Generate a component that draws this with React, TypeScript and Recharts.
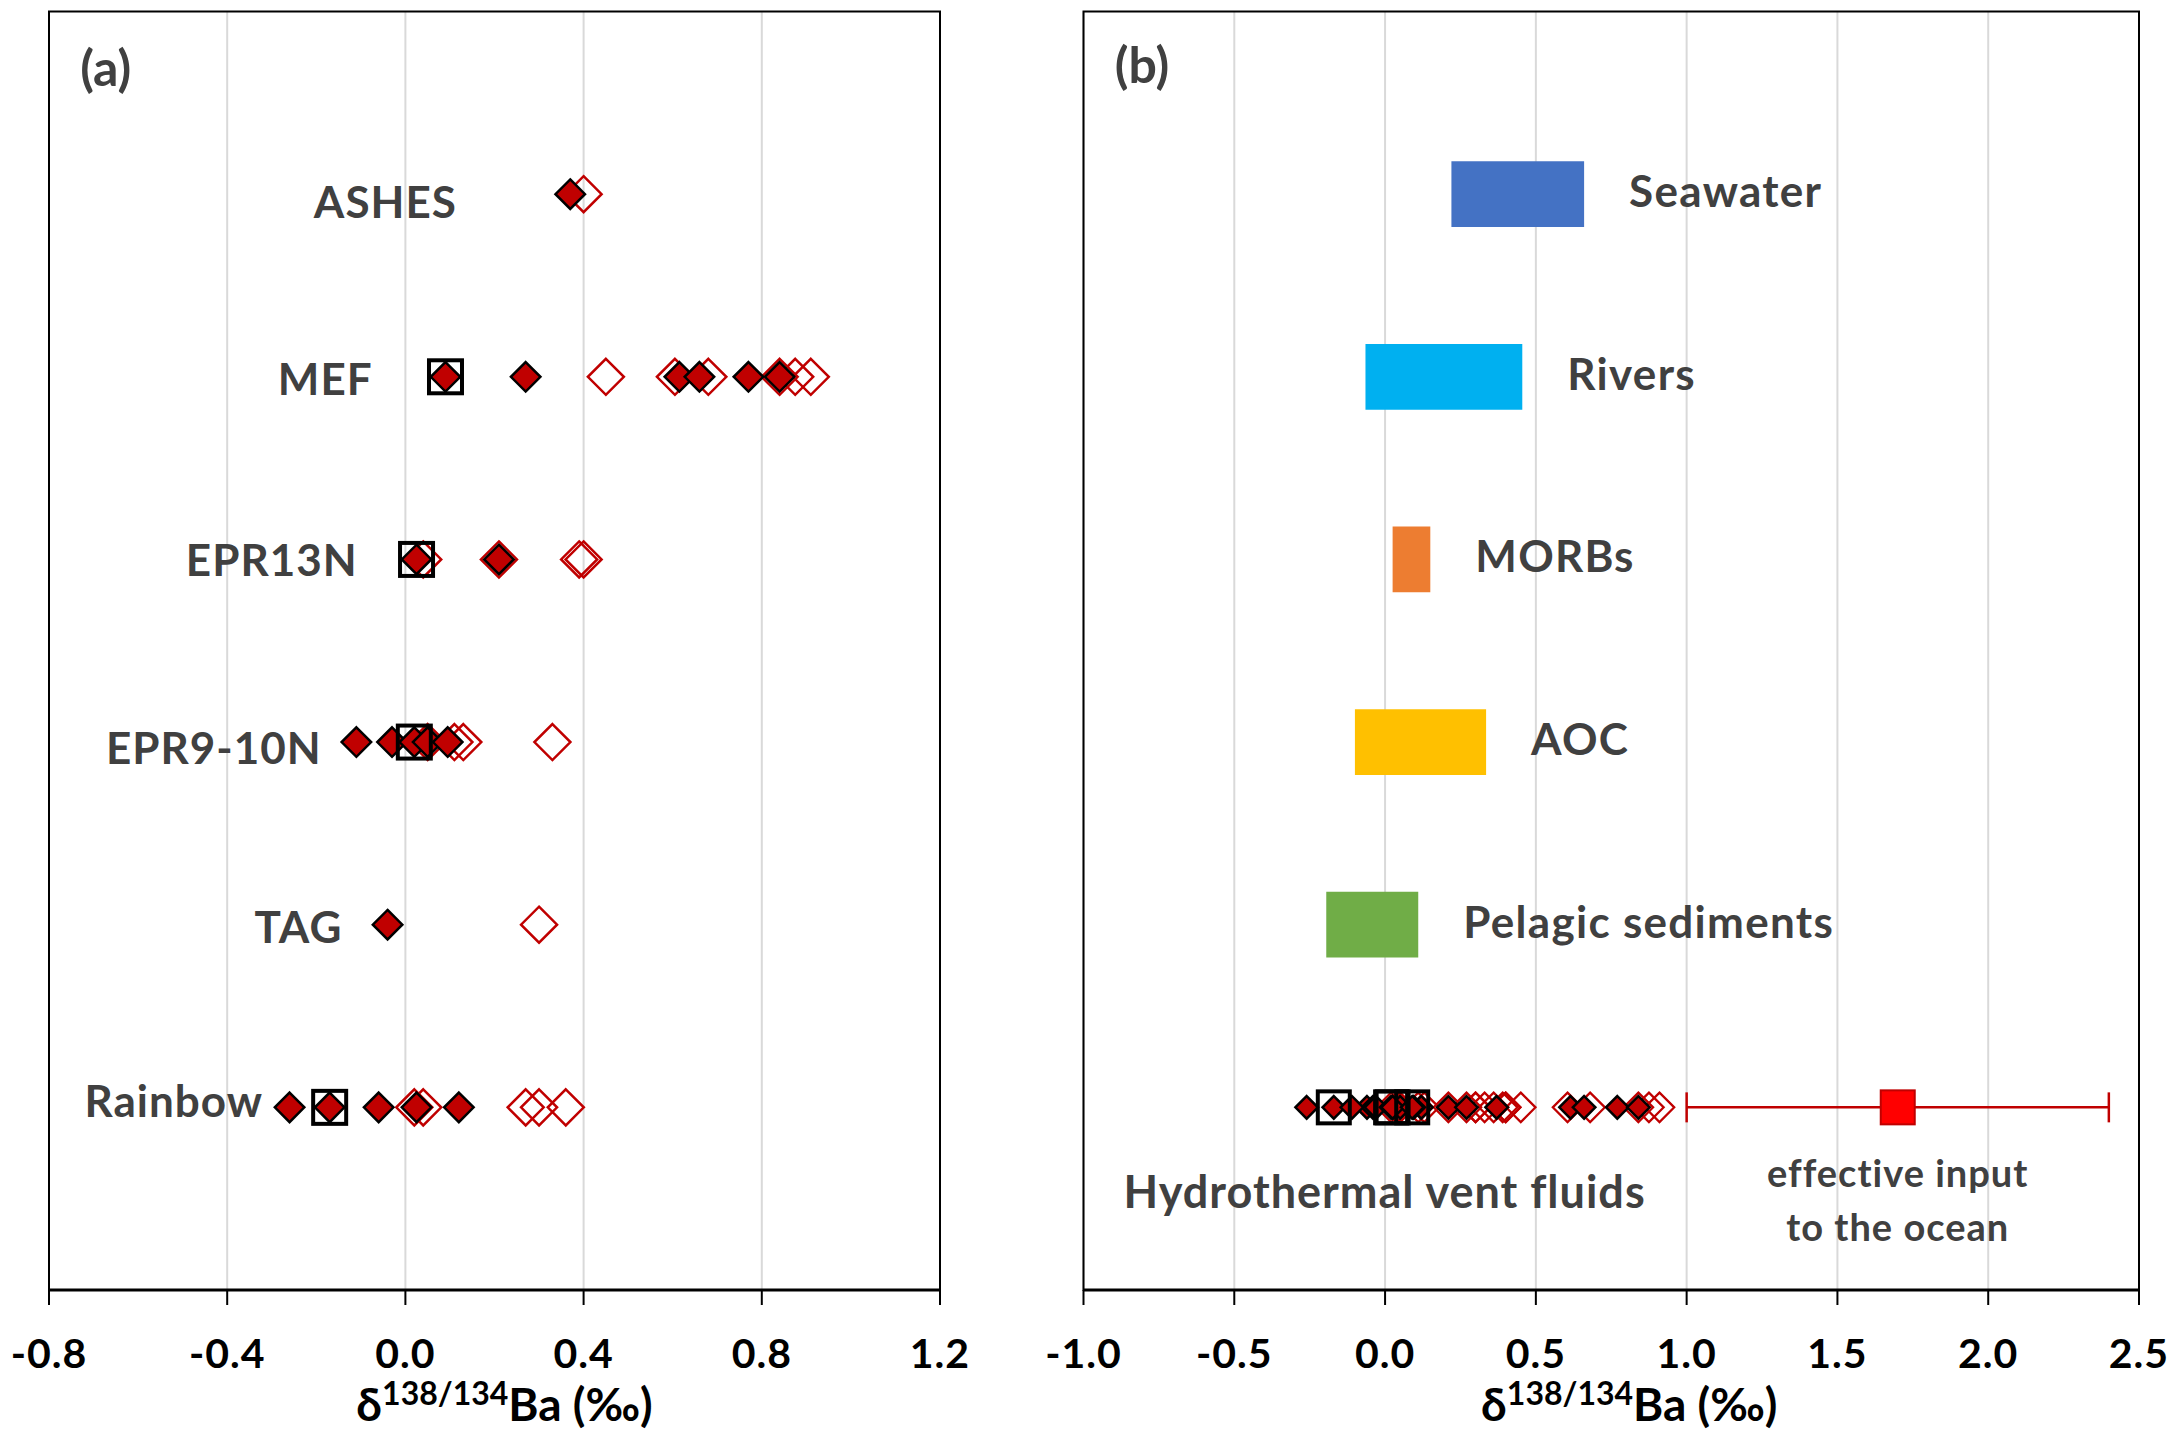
import React from 'react';
import { ScatterChart, Scatter, XAxis, YAxis, CartesianGrid, ReferenceArea, ErrorBar } from 'recharts';

const FONT = "Lato, 'Open Sans', 'DejaVu Sans', sans-serif";
const LABEL_GREY = '#404040';
const DARK_RED = '#C00000';

// Vent sites, from the bottom row (1) to the top row (6)
const siteNames = ['Rainbow', 'TAG', 'EPR9-10N', 'EPR13N', 'MEF', 'ASHES'];
const siteRows = [1, 2, 3, 4, 5, 6];

// δ138/134Ba (‰) of vent fluids: filled, hollow and framed symbols per site
const rainbowFilled = [-0.26, -0.17, -0.06, 0.025, 0.12];
const rainbowHollow = [0.02, 0.04, 0.27, 0.3, 0.36];
const rainbowFramed = [-0.17];
const tagFilled = [-0.04];
const tagHollow = [0.3];
const tagFramed: number[] = [];
const epr910Filled = [-0.11, -0.03, 0.02, 0.05, 0.095];
const epr910Hollow = [0.05, 0.11, 0.13, 0.33];
const epr910Framed = [0.02];
const epr13Filled = [0.025, 0.21];
const epr13Hollow = [0.04, 0.21, 0.39, 0.4];
const epr13Framed = [0.025];
const mefFilled = [0.09, 0.27, 0.615, 0.66, 0.77, 0.84];
const mefHollow = [0.45, 0.605, 0.68, 0.84, 0.875, 0.91];
const mefFramed = [0.09];
const ashesFilled = [0.37];
const ashesHollow = [0.4];
const ashesFramed: number[] = [];

// Site label anchors (label centre), in axis units
const siteLabelX = [-0.52, -0.24, -0.43, -0.3, -0.18, -0.045];
const siteLabelY = [1.035, 1.988, 2.968, 3.997, 4.988, 5.956];

// Ba isotope reservoirs shown as ranges in panel (b)
const sourceNames = ['Seawater', 'Rivers', 'MORBs', 'AOC', 'Pelagic sediments'];
const sourceRows = [6, 5, 4, 3, 2];
const sourceLow = [0.22, -0.065, 0.025, -0.1, -0.195];
const sourceHigh = [0.66, 0.455, 0.15, 0.335, 0.11];
const sourceColors = ['#4472C4', '#00B0F0', '#ED7D31', '#FFC000', '#70AD47'];

// Effective hydrothermal input to the ocean (mean ± range)
const effectiveInput = [1.7];
const effectiveInputErr = [0.7];
const ventRow = 1;

const ticksA = [-0.8, -0.4, 0, 0.4, 0.8, 1.2];
const ticksB = [-1, -0.5, 0, 0.5, 1, 1.5, 2, 2.5];

const filledGroups = [rainbowFilled, tagFilled, epr910Filled, epr13Filled, mefFilled, ashesFilled];
const hollowGroups = [rainbowHollow, tagHollow, epr910Hollow, epr13Hollow, mefHollow, ashesHollow];
const framedGroups = [rainbowFramed, tagFramed, epr910Framed, epr13Framed, mefFramed, ashesFramed];

const bySite = (groups: number[][]) =>
  groups.flatMap((vals, i) => vals.map((v) => ({ x: v, y: siteRows[i] })));
const onVentRow = (groups: number[][]) => groups.flat().map((v) => ({ x: v, y: ventRow }));

const siteLabelPoints = siteNames.map((name, i) => ({ x: siteLabelX[i], y: siteLabelY[i], label: name }));
const sourceLabelPoints = sourceNames.map((name, i) => ({ x: sourceHigh[i], y: sourceRows[i], label: name }));
const effectivePoints = effectiveInput.map((v, i) => ({ x: v, y: ventRow, err: effectiveInputErr[i] }));

const diamondShape = (size: number, fill: string, stroke: string, width: number) => (p: any) => {
  const { cx, cy } = p;
  if (cx == null || cy == null) return <g />;
  const h = size / 2;
  return (
    <path
      d={`M${cx},${cy - h}L${cx + h},${cy}L${cx},${cy + h}L${cx - h},${cy}Z`}
      fill={fill}
      stroke={stroke}
      strokeWidth={width}
    />
  );
};

const squareShape = (size: number, fill: string, stroke: string, width: number) => (p: any) => {
  const { cx, cy } = p;
  if (cx == null || cy == null) return <g />;
  return (
    <rect x={cx - size / 2} y={cy - size / 2} width={size} height={size} fill={fill} stroke={stroke} strokeWidth={width} />
  );
};

type TextOpts = { size: number; anchor: 'start' | 'middle' | 'end'; dx?: number; dy?: number; spacing?: number; color?: string };
const textShape = (o: TextOpts) => (p: any) => {
  const { cx, cy, payload } = p;
  if (cx == null || cy == null) return <g />;
  return (
    <text
      x={cx + (o.dx ?? 0)}
      y={cy + o.size * 0.36 + (o.dy ?? 0)}
      textAnchor={o.anchor}
      fontFamily={FONT}
      fontWeight={700}
      fontSize={o.size}
      letterSpacing={o.spacing ?? 0}
      fill={o.color ?? LABEL_GREY}
    >
      {payload.label}
    </text>
  );
};

const AxisTick = (p: any) => {
  const { x, y, payload } = p;
  return (
    <text x={x} y={y + 63} textAnchor="middle" fontFamily={FONT} fontWeight={700} fontSize={41} letterSpacing={1} fill="#000">
      {Number(payload.value).toFixed(1)}
    </text>
  );
};

const axisTitle = (dx: number) => (p: any) => {
  const vb = p.viewBox;
  if (!vb) return null;
  return (
    <text x={vb.x + vb.width / 2 + dx} y={vb.y + 131} textAnchor="middle" fontFamily={FONT} fontWeight={700} fontSize={46} fill="#000">
      <tspan>δ</tspan>
      <tspan fontSize={32} dy={-16}>138/134</tspan>
      <tspan dy={16}>Ba (‰)</tspan>
    </text>
  );
};

const axisCommon = {
  type: 'number' as const,
  dataKey: 'x',
  height: 100,
  tickSize: 15,
  tickMargin: 0,
  axisLine: { stroke: '#000', strokeWidth: 3 },
  tickLine: { stroke: '#000', strokeWidth: 2 },
  tick: AxisTick,
  interval: 0 as const,
};

function PanelA() {
  return (
    <ScatterChart width={1060} height={1431} margin={{ top: 11.5, right: 120, bottom: 41, left: 49 }}>
      <CartesianGrid vertical horizontal={false} stroke="#D9D9D9" strokeWidth={2} />
      <XAxis {...axisCommon} domain={[-0.8, 1.2]} ticks={ticksA} label={{ content: axisTitle(10) }} />
      <YAxis type="number" dataKey="y" domain={[0, 7]} hide />
      <ReferenceArea x1={-0.8} x2={1.2} y1={0} y2={7} fill="none" stroke="#000" strokeWidth={2} />
      <Scatter data={bySite(hollowGroups)} shape={diamondShape(36, 'none', DARK_RED, 2.5)} isAnimationActive={false} />
      <Scatter data={bySite(filledGroups)} shape={diamondShape(29.5, DARK_RED, '#000', 2.5)} isAnimationActive={false} />
      <Scatter data={bySite(framedGroups)} shape={squareShape(33, 'none', '#000', 4)} isAnimationActive={false} />
      <Scatter data={siteLabelPoints} shape={textShape({ size: 44, anchor: 'middle', spacing: 1 })} isAnimationActive={false} />
      <Scatter
        data={[{ x: -0.73, y: 6.69, label: '(a)' }]}
        shape={textShape({ size: 50, anchor: 'start' })}
        isAnimationActive={false}
      />
    </ScatterChart>
  );
}

function PanelB() {
  return (
    <ScatterChart width={1184} height={1431} margin={{ top: 11.5, right: 35, bottom: 41, left: 93.5 }}>
      <CartesianGrid vertical horizontal={false} stroke="#D9D9D9" strokeWidth={2} />
      <XAxis {...axisCommon} domain={[-1, 2.5]} ticks={ticksB} label={{ content: axisTitle(18) }} />
      <YAxis type="number" dataKey="y" domain={[0, 7]} hide />
      <ReferenceArea x1={-1} x2={2.5} y1={0} y2={7} fill="none" stroke="#000" strokeWidth={2} />
      {sourceNames.map((name, i) => (
        <ReferenceArea
          key={name}
          x1={sourceLow[i]}
          x2={sourceHigh[i]}
          y1={sourceRows[i] - 0.18}
          y2={sourceRows[i] + 0.18}
          fill={sourceColors[i]}
          fillOpacity={1}
          stroke="none"
        />
      ))}
      <Scatter data={sourceLabelPoints} shape={textShape({ size: 44, anchor: 'start', dx: 45, dy: -3, spacing: 1.3 })} isAnimationActive={false} />
      <Scatter data={onVentRow(hollowGroups)} shape={diamondShape(29.5, 'none', DARK_RED, 2.2)} isAnimationActive={false} />
      <Scatter data={onVentRow(filledGroups)} shape={diamondShape(22.5, DARK_RED, '#000', 2.5)} isAnimationActive={false} />
      <Scatter data={onVentRow(framedGroups)} shape={squareShape(32, 'none', '#000', 4)} isAnimationActive={false} />
      <Scatter data={effectivePoints} shape={squareShape(34, '#FF0000', DARK_RED, 2)} isAnimationActive={false}>
        <ErrorBar dataKey="err" direction="x" width={15} stroke={DARK_RED} strokeWidth={2.5} />
      </Scatter>
      <Scatter
        data={[{ x: -0.867, y: 0.537, label: 'Hydrothermal vent fluids' }]}
        shape={textShape({ size: 45, anchor: 'start', spacing: 1 })}
        isAnimationActive={false}
      />
      <Scatter
        data={[
          { x: 1.7, y: 0.637, label: 'effective input' },
          { x: 1.7, y: 0.343, label: 'to the ocean' },
        ]}
        shape={textShape({ size: 38, anchor: 'middle', spacing: 1 })}
        isAnimationActive={false}
      />
      <Scatter
        data={[{ x: -0.896, y: 6.706, label: '(b)' }]}
        shape={textShape({ size: 50, anchor: 'start' })}
        isAnimationActive={false}
      />
    </ScatterChart>
  );
}

export default function App() {
  return (
    <div style={{ position: 'absolute', left: 0, top: 0, width: 2174, height: 1431, background: '#fff', overflow: 'hidden' }}>
      <div style={{ position: 'absolute', left: 0, top: 0 }}>
        <PanelA />
      </div>
      <div style={{ position: 'absolute', left: 990, top: 0 }}>
        <PanelB />
      </div>
    </div>
  );
}
